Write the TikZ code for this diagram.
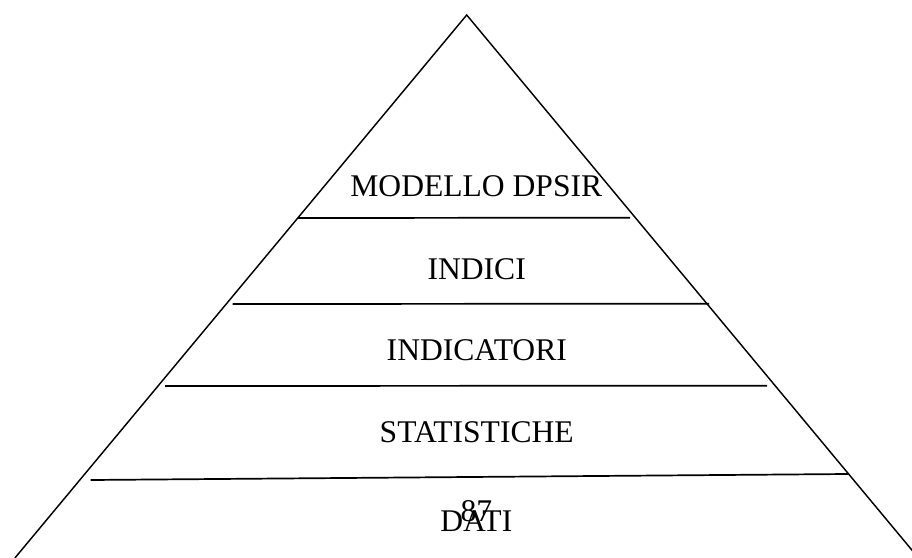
\documentclass[tikz,border=0pt]{standalone}
\usepackage{fontspec}
\setmainfont{Liberation Serif}
\begin{document}
\begin{tikzpicture}[x=0.38pt,y=-0.38pt,
  edge/.style={line width=0.55pt,line cap=butt},
  divider/.style={line width=0.65pt,line cap=butt},
  level/.style={anchor=base,inner sep=0pt,font=\fontsize{12}{14}\selectfont}]
\useasboundingbox (0,0) rectangle (912,558);
\clip (0,0) rectangle (912,558);
% outline of the pyramid
\coordinate (apex) at (466.7,15);
\coordinate (baseL) at (14.9,558);
\coordinate (baseR) at (918.5,558);
\draw[edge] (baseL) -- (apex) -- (baseR);
% dividing lines between levels
\coordinate (s1L) at (90.7,480);   \coordinate (s1R) at (848.3,474);
\coordinate (s2L) at (165,386);    \coordinate (s2R) at (767,385.7);
\coordinate (s3L) at (232.7,304);  \coordinate (s3R) at (709,303.7);
\coordinate (s4L) at (298,218);    \coordinate (s4R) at (630,217.7);
\draw[divider] (s1L) -- (s1R);
\draw[divider] (s2L) -- (s2R);
\draw[divider] (s3L) -- (s3R);
\draw[divider] (s4L) -- (s4R);
% level labels
\node[level] (modello) at (476.3,196.7) {MODELLO DPSIR};
\node[level] (indici) at (476.7,279) {INDICI};
\node[level] (indicatori) at (476.8,360.7) {INDICATORI};
\node[level] (statistiche) at (476.7,442.7) {STATISTICHE};
\node[level] (dati) at (476.3,531.7) {DATI};
\node[level] (pagenum) at (476.3,521.7) {87};
\end{tikzpicture}
\end{document}
